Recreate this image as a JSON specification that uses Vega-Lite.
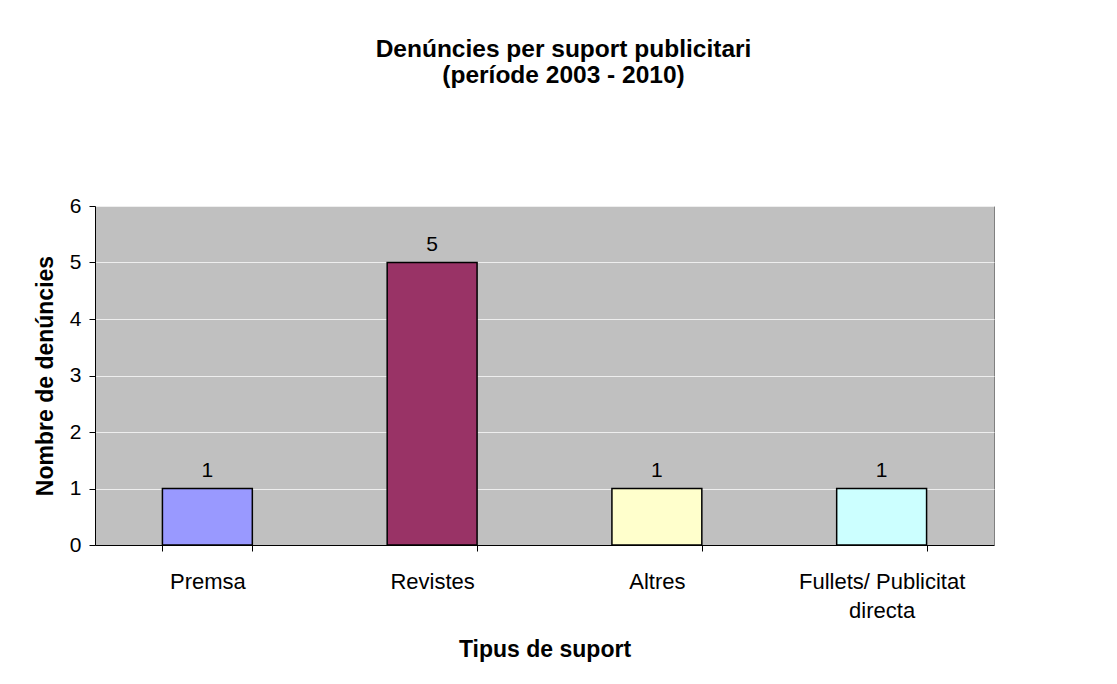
{
  "$schema": "https://vega.github.io/schema/vega-lite/v6.json",
  "width": 899,
  "height": 339,
  "autosize": "none",
  "padding": {"left": 95, "top": 206, "right": 123, "bottom": 139},
  "background": "white",
  "config": {
    "font": "Liberation Sans",
    "view": {"fill": "#C0C0C0", "stroke": "#808080", "strokeWidth": 1}
  },
  "title": {
    "text": ["Denúncies per suport publicitari", "(període 2003 - 2010)"],
    "font": "Liberation Sans",
    "fontSize": 24.5,
    "fontWeight": "bold",
    "color": "black",
    "anchor": "middle",
    "frame": "group",
    "dx": 19,
    "offset": 107,
    "lineHeight": 26
  },
  "data": {
    "values": [
      {"suport": "Premsa", "n": 1},
      {"suport": "Revistes", "n": 5},
      {"suport": "Altres", "n": 1},
      {"suport": "Fullets/ Publicitat directa", "n": 1}
    ]
  },
  "encoding": {
    "x": {
      "field": "suport",
      "type": "nominal",
      "sort": null,
      "scale": {"paddingInner": 0.6, "paddingOuter": 0.3},
      "axis": {
        "title": "Tipus de suport",
        "titleFont": "Liberation Sans",
        "titleFontSize": 23,
        "titleFontWeight": "bold",
        "titleColor": "black",
        "titlePadding": 17,
        "labelAngle": 0,
        "labelFont": "Liberation Sans",
        "labelFontSize": 22,
        "labelColor": "black",
        "labelPadding": 20,
        "labelLineHeight": 29,
        "labelExpr": "datum.value == 'Fullets/ Publicitat directa' ? ['Fullets/ Publicitat', 'directa'] : datum.value",
        "tickBand": "extent",
        "tickSize": 6,
        "tickColor": "black",
        "domainColor": "black",
        "grid": false
      }
    }
  },
  "layer": [
    {
      "mark": {"type": "bar", "stroke": "black", "strokeWidth": 1.5},
      "encoding": {
        "y": {
          "field": "n",
          "type": "quantitative",
          "scale": {"domain": [0, 6]},
          "axis": {
            "title": "Nombre de denúncies",
            "titleFont": "Liberation Sans",
            "titleFontSize": 23,
            "titleFontWeight": "bold",
            "titleColor": "black",
            "titlePadding": 12,
            "values": [0, 1, 2, 3, 4, 5, 6],
            "format": "d",
            "labelFont": "Liberation Sans",
            "labelFontSize": 21,
            "labelColor": "black",
            "labelPadding": 8,
            "tickSize": 6,
            "tickColor": "black",
            "domainColor": "black",
            "gridColor": "#EEEEEE",
            "gridOpacity": 1,
            "gridWidth": 1
          }
        },
        "fill": {
          "field": "suport",
          "type": "nominal",
          "sort": null,
          "scale": {"range": ["#9999FF", "#993366", "#FFFFCC", "#CCFFFF"]},
          "legend": null
        }
      }
    },
    {
      "mark": {"type": "text", "baseline": "alphabetic", "dy": -12, "fontSize": 21, "font": "Liberation Sans", "color": "black"},
      "encoding": {
        "y": {"field": "n", "type": "quantitative"},
        "text": {"field": "n", "type": "quantitative"}
      }
    }
  ]
}
